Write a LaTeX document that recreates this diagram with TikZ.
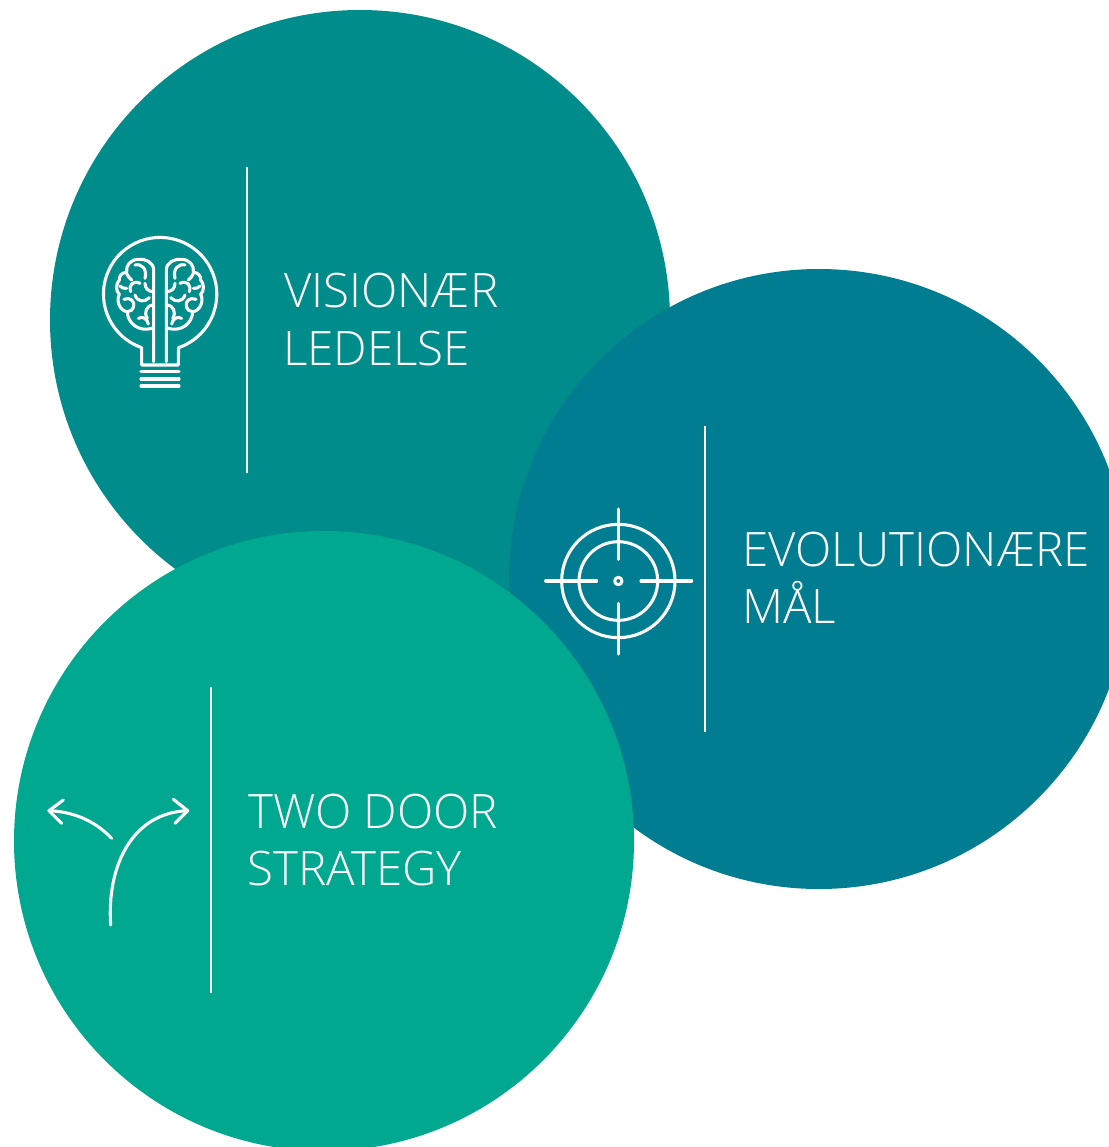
\documentclass[tikz,border=0pt]{standalone}
\usepackage{fontspec}
\setmainfont{Open Sans Light}
\definecolor{tealA}{HTML}{008C8A}
\definecolor{tealB}{HTML}{007D91}
\definecolor{tealC}{HTML}{00A88F}
\tikzset{
  disc/.style={fill=#1,draw=none},
  rule/.style={draw=white,line width=1.8pt},
  ico/.style={draw=white,line width=2.3pt,line cap=round,line join=round},
  lbl/.style={text=white,anchor=base west,inner sep=0pt,font=\fontsize{35.6}{36}\selectfont}
}
\newcommand{\hemi}{%
  \draw[ico] (191,410) -- (191,135) .. controls (191,112) and (165,100) .. (145,103)
    .. controls (122,103) and (106,122) .. (110,142)
    .. controls (95,142) and (86,155) .. (88,165)
    .. controls (78,175) and (76,198) .. (88,208)
    .. controls (78,225) and (88,258) .. (112,260)
    .. controls (112,292) and (145,325) .. (191,308);
  \draw[ico] (135,120) .. controls (155,115) and (172,132) .. (165,160);
  \draw[ico] (110,145) .. controls (112,152) and (118,160) .. (125,165);
  \draw[ico] (165,175) .. controls (165,190) and (175,200) .. (191,200);
  \draw[ico] (150,175) .. controls (130,165) and (115,180) .. (122,200);
  \draw[ico] (90,183) .. controls (95,188) and (102,192) .. (110,190);
  \draw[ico] (135,210) .. controls (142,232) and (165,232) .. (178,218);
  \draw[ico] (102,223) .. controls (120,215) and (135,228) .. (131,246);
  \draw[ico] (112,260) .. controls (122,260) and (128,254) .. (131,246);
  \draw[ico] (191,240) .. controls (170,240) and (160,262) .. (172,280);
  \draw[ico] (145,280) .. controls (158,272) and (172,282) .. (175,297);
}
\begin{document}
\begin{tikzpicture}[x=0.75pt,y=-0.75pt]
\useasboundingbox (0,0) rectangle (1109,1147);
\clip (0,0) rectangle (1109,1147);
\fill[disc=tealA] (360,320) circle[radius=310*0.75pt];
\fill[disc=tealB] (819,579) circle[radius=310*0.75pt];
\fill[disc=tealC] (324,841) circle[radius=310*0.75pt];

\coordinate (r1a) at (247,167); \coordinate (r1b) at (247,473);
\coordinate (r2a) at (705,426); \coordinate (r2b) at (705,732);
\coordinate (r3a) at (211,687); \coordinate (r3b) at (211,993);
\draw[rule] (r1a) -- (r1b);
\draw[rule] (r2a) -- (r2b);
\draw[rule] (r3a) -- (r3b);

\node[lbl] (t1a) at (284,307) {VISIONÆR};
\node[lbl] (t1b) at (283,365) {LEDELSE};
\node[lbl] (t2a) at (742,566) {EVOLUTIONÆRE};
\node[lbl] (t2b) at (742,623) {MÅL};
\node[lbl] (t3a) at (248,828) {TWO DOOR};
\node[lbl] (t3b) at (247,885) {STRATEGY};

% brain bulb
\begin{scope}[shift={(90,225)},x=0.25pt,y=-0.25pt]
  \draw[ico] (155,420) -- (155,368) arc[start angle=251,end angle=-71,radius=170*0.25pt] -- (265,420) -- cycle;
  \foreach \yy in {440,462,483} \draw[ico] (153,\yy) -- (267,\yy);
  \hemi
  \begin{scope}[xshift=105pt,xscale=-1]
    \hemi
  \end{scope}
\end{scope}

% target
\begin{scope}[shift={(535,500)},x=0.25pt,y=-0.25pt]
  \draw[ico] (250,243) circle[radius=170*0.25pt];
  \draw[ico] (250,243) circle[radius=118*0.25pt];
  \draw[ico] (250,243) circle[radius=11*0.25pt];
  \draw[ico] (32,243) -- (185,243);
  \draw[ico] (318,243) -- (470,243);
  \draw[ico] (250,27) -- (250,178);
  \draw[ico] (250,310) -- (250,462);
\end{scope}

% arrows
\begin{scope}[shift={(35,780)},x=0.25pt,y=-0.25pt]
  \draw[ico] (227,435) .. controls (215,260) and (290,98) .. (458,92);
  \draw[ico] (415,58) -- (458,92) -- (420,130);
  \draw[ico] (230,175) .. controls (175,118) and (110,95) .. (42,92);
  \draw[ico] (85,60) -- (42,92) -- (80,130);
\end{scope}
\end{tikzpicture}
\end{document}
